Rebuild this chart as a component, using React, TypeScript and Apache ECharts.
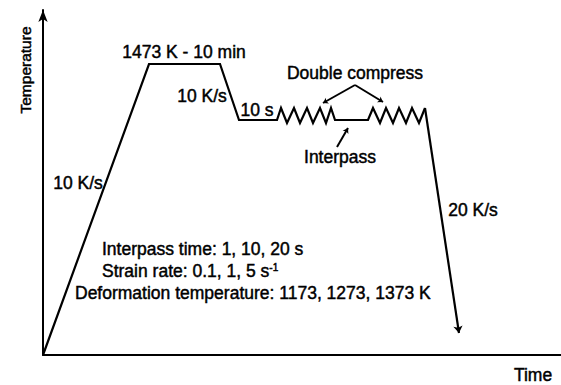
import React, { useEffect, useRef } from 'react';
import * as echarts from 'echarts';

// Thermal profile (time, temperature) in schematic units
const profileTime = [0, 106, 177, 196, 234, 238, 244, 251, 257, 264, 270, 277, 283, 288, 292, 325, 330, 337, 343, 350, 356, 363, 369, 376, 382];
const profileTemp = [0, 291, 291, 235, 235, 247, 232, 247, 232, 247, 232, 247, 232, 247, 235, 235, 247, 232, 247, 232, 247, 232, 247, 232, 247];
const quenchStart = [382, 247];
const quenchEnd = [416, 22];
const compressApex = [312, 270];
const compressTargets = [[280, 252], [340, 253]];
const interpassPointer = [[294, 208], [305, 227]];

const axisMaxTime = 518;
const axisMaxTemp = 345;

const yAxisName = 'Temperature';
const xAxisName = 'Time';
const holdLabel = '1473 K - 10 min';
const heatRateLabel = '10 K/s';
const coolRateLabel = '10 K/s';
const holdTimeLabel = '10 s';
const compressLabel = 'Double compress';
const interpassLabel = 'Interpass';
const quenchLabel = '20 K/s';
const infoLine1 = 'Interpass time: 1, 10, 20 s';
const infoLine2 = 'Strain rate: 0.1, 1, 5 s';
const infoLine2Sup = '-1';
const infoLine3 = 'Deformation temperature: 1173, 1273, 1373 K';

const FONT = '"Liberation Sans", Arial, sans-serif';

export default function App() {
  const ref = useRef<HTMLDivElement>(null);
  useEffect(() => {
    if (!ref.current) return;
    const chart = echarts.init(ref.current, null, { renderer: 'svg' });
    const txt = (text: string, x: number, y: number, align: string, size = 17.5, extra: any = {}) => ({
      type: 'text',
      x,
      y,
      ...extra,
      style: {
        text,
        fill: '#000',
        stroke: '#000',
        lineWidth: 0.45,
        fontSize: size,
        fontFamily: FONT,
        align,
        verticalAlign: 'middle',
      },
    });
    const option: any = {
      animation: false,
      backgroundColor: '#fff',
      grid: { left: 43, right: 0, top: 10, bottom: 30 },
      xAxis: {
        type: 'value', min: 0, max: axisMaxTime,
        axisLine: { show: true, onZero: false, lineStyle: { color: '#000', width: 2 } },
        axisTick: { show: false }, axisLabel: { show: false }, splitLine: { show: false },
      },
      yAxis: {
        type: 'value', min: 0, max: axisMaxTemp,
        axisLine: { show: true, onZero: false, symbol: ['none', 'arrow'], symbolSize: [7, 12], lineStyle: { color: '#000', width: 2 } },
        axisTick: { show: false }, axisLabel: { show: false }, splitLine: { show: false },
      },
      series: [
        {
          type: 'line',
          data: profileTime.map((t, i) => [t, profileTemp[i]]),
          symbol: 'none',
          lineStyle: { color: '#000', width: 2.2, join: 'miter' },
          silent: true,
          markLine: {
            silent: true,
            symbol: ['none', 'arrow'],
            symbolSize: 7,
            label: { show: false },
            lineStyle: { type: 'solid', color: '#000', width: 2.2 },
            data: [
              [{ coord: quenchStart }, { coord: quenchEnd }],
              ...compressTargets.map((p) => [
                { coord: compressApex, lineStyle: { width: 2 } },
                { coord: p, symbolSize: 5 },
              ]),
              [{ coord: interpassPointer[0], lineStyle: { width: 2 } }, { coord: interpassPointer[1], symbolSize: 5 }],
            ],
          },
        },
      ],
      graphic: [
        txt(yAxisName, 25, 70, 'center', 15.5, { rotation: Math.PI / 2 }),
        txt(xAxisName, 533, 375, 'center'),
        txt(holdLabel, 184, 52, 'center'),
        txt(coolRateLabel, 202, 96, 'center'),
        txt(holdTimeLabel, 257, 110, 'center'),
        txt(heatRateLabel, 78, 183, 'center'),
        txt(compressLabel, 355, 73, 'center'),
        txt(interpassLabel, 340, 157, 'center'),
        txt(quenchLabel, 473, 210, 'center'),
        txt(infoLine1, 102, 249, 'left'),
        {
          type: 'text', x: 102, y: 271,
          style: {
            text: infoLine2 + '{sup|' + infoLine2Sup + '}',
            fill: '#000', stroke: '#000', lineWidth: 0.45, fontSize: 17.5, fontFamily: FONT, align: 'left', verticalAlign: 'middle',
            rich: { sup: { fontSize: 10, fontFamily: FONT, fill: '#000', verticalAlign: 'top', padding: [0, 0, 8, 0] } },
          },
        },
        txt(infoLine3, 75, 293, 'left'),
      ],
    };
    chart.setOption(option);
    return () => chart.dispose();
  }, []);
  return <div ref={ref} style={{ position: 'fixed', left: 0, top: 0, width: 561, height: 385 }} />;
}
